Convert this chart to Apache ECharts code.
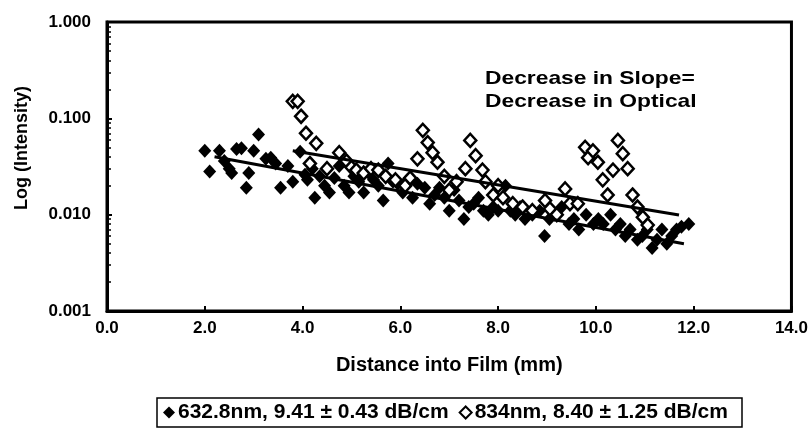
<!DOCTYPE html>
<html><head><meta charset="utf-8">
<script src="https://cdn.jsdelivr.net/npm/echarts@6/dist/echarts.min.js"></script>
<style>html,body{margin:0;padding:0;background:#fff}#c{width:811px;height:432px}</style>
</head><body><div id="c"></div>
<script>
// 632.8nm (filled diamonds)
const redX = [2.0,2.1,2.3,2.4,2.5,2.55,2.65,2.75,2.85,2.9,3.0,3.1,3.25,3.35,3.45,3.55,3.7,3.8,3.95,4.05,4.1,4.2,4.25,4.35,4.45,4.55,4.65,4.75,4.85,4.95,5.05,5.15,5.25,5.35,5.45,5.55,5.65,5.75,5.85,5.95,6.05,6.15,6.25,6.35,6.5,6.6,6.7,6.8,6.9,7.0,7.1,7.2,7.3,7.4,7.5,7.6,7.7,7.8,7.9,8.0,8.15,8.25,8.35,8.45,8.55,8.7,8.85,8.95,9.05,9.15,9.3,9.45,9.55,9.65,9.8,9.95,10.05,10.15,10.3,10.4,10.5,10.6,10.7,10.85,10.95,11.05,11.15,11.25,11.35,11.45,11.55,11.65,11.75,11.9];
const redY = [0.046,0.028,0.046,0.036,0.030,0.027,0.048,0.049,0.019,0.027,0.046,0.068,0.038,0.039,0.034,0.019,0.032,0.022,0.045,0.026,0.023,0.030,0.015,0.025,0.020,0.017,0.024,0.032,0.020,0.017,0.025,0.022,0.017,0.027,0.023,0.020,0.014,0.034,0.022,0.021,0.017,0.023,0.015,0.021,0.019,0.013,0.016,0.019,0.015,0.011,0.018,0.014,0.009,0.012,0.013,0.015,0.011,0.010,0.012,0.011,0.020,0.011,0.010,0.012,0.009,0.010,0.011,0.006,0.009,0.010,0.012,0.008,0.009,0.007,0.010,0.008,0.009,0.008,0.010,0.007,0.008,0.006,0.007,0.0055,0.006,0.007,0.0045,0.0055,0.007,0.005,0.006,0.007,0.0075,0.008];
// 834nm (open diamonds)
const irX = [3.8,3.9,3.97,4.07,4.28,4.15,4.5,4.75,4.9,5.0,5.1,5.25,5.4,5.55,5.7,5.9,6.1,6.2,6.35,6.46,6.56,6.66,6.76,6.9,7.0,7.15,7.33,7.43,7.54,7.68,7.74,7.9,8.0,8.1,8.3,8.5,8.7,8.96,9.06,9.2,9.37,9.47,9.63,9.78,9.84,9.94,10.04,10.14,10.24,10.35,10.45,10.55,10.65,10.75,10.85,10.96,11.06];
const irY = [0.150,0.150,0.105,0.070,0.055,0.034,0.030,0.044,0.036,0.031,0.029,0.027,0.030,0.029,0.025,0.023,0.020,0.024,0.038,0.075,0.056,0.044,0.035,0.025,0.018,0.022,0.030,0.059,0.041,0.029,0.022,0.016,0.020,0.015,0.013,0.012,0.011,0.014,0.0115,0.010,0.0185,0.013,0.013,0.050,0.039,0.046,0.035,0.023,0.016,0.029,0.059,0.043,0.030,0.016,0.012,0.0094,0.0078];
// trend line endpoints
const redFitX = [2.2, 11.8];
const redFitY = [0.040, 0.005];
const irFitX = [3.8, 11.7];
const irFitY = [0.046, 0.0099];
const xTicks = {min: 0, max: 14, interval: 2};
const yTicks = {min: 0.001, max: 1};
const names = ['632.8nm, 9.41 \u00b1 0.43 dB/cm', '834nm, 8.40 \u00b1 1.25 dB/cm'];
const noteLines = ['Decrease in Slope=', 'Decrease in Optical'];
const yTitle = 'Log (Intensity)';
const xTitle = 'Distance into Film (mm)';

const zip = (a, b) => a.map((v, i) => [v, b[i]]);
const FONT = "'Liberation Sans', Arial, sans-serif";
const chart = echarts.init(document.getElementById('c'), null, {renderer: 'canvas'});
chart.setOption({
  animation: false,
  backgroundColor: '#fff',
  grid: {left: 107, right: 18, top: 22, bottom: 121, show: true, borderColor: '#000', borderWidth: 3, backgroundColor: 'transparent'},
  xAxis: {
    type: 'value', min: xTicks.min, max: xTicks.max, interval: xTicks.interval,
    name: xTitle, nameLocation: 'middle', nameGap: 44,
    nameTextStyle: {fontFamily: FONT, fontWeight: 'bold', fontSize: 20, color: '#000'},
    axisLine: {lineStyle: {color: '#000', width: 3}},
    axisTick: {inside: true, length: 5, lineStyle: {color: '#000', width: 2}},
    axisLabel: {fontFamily: FONT, fontWeight: 'bold', fontSize: 17, color: '#000', margin: 9, formatter: v => v.toFixed(1)},
    splitLine: {show: false}
  },
  yAxis: {
    type: 'log', logBase: 10, min: yTicks.min, max: yTicks.max,
    axisLine: {lineStyle: {color: '#000', width: 3}},
    axisTick: {inside: true, length: 5, lineStyle: {color: '#000', width: 2}},
    minorTick: {show: true, splitNumber: 9, length: 4, lineStyle: {color: '#000', width: 1.5}},
    axisLabel: {fontFamily: FONT, fontWeight: 'bold', fontSize: 17, color: '#000', margin: 16, formatter: v => Number(v).toFixed(3)},
    splitLine: {show: false}
  },
  legend: {
    data: names, left: 159, top: 399, itemGap: 10,
    padding: [3, 4, 3, 4],
    itemWidth: 12, itemHeight: 12,
    textStyle: {fontFamily: FONT, fontWeight: 'bold', fontSize: 21, color: '#000', padding: [0,0,0,-2]}
  },
  series: [
    {name: names[0], type: 'scatter', symbol: 'diamond', symbolSize: [13, 14], data: zip(redX, redY),
     itemStyle: {color: '#000', opacity: 1}, z: 2},
    {name: names[1], type: 'scatter', symbol: 'diamond', symbolSize: [12, 13], data: zip(irX, irY),
     itemStyle: {color: '#fff', borderColor: '#000', borderWidth: 2.5, opacity: 1}, z: 3},
    {name: 'fit1', type: 'line', data: zip(redFitX, redFitY), showSymbol: false, symbol: 'none',
     lineStyle: {color: '#000', width: 3}, z: 4},
    {name: 'fit2', type: 'line', data: zip(irFitX, irFitY), showSymbol: false, symbol: 'none',
     lineStyle: {color: '#000', width: 3}, z: 4}
  ],
  graphic: [
    {type: 'text', x: 485, y: 67, scaleX: 1.2, style: {text: noteLines.join('\n'), font: 'bold 19px ' + FONT, fill: '#000', lineHeight: 23}},
    {type: 'text', x: 22, y: 148, rotation: Math.PI / 2, style: {text: yTitle, font: 'bold 18px ' + FONT, fill: '#000', align: 'center', verticalAlign: 'middle'}},
    {type: 'rect', shape: {x: 157, y: 398, width: 585, height: 29}, style: {fill: 'none', stroke: '#000', lineWidth: 1.5}, z: 10}
  ]
});
</script></body></html>
